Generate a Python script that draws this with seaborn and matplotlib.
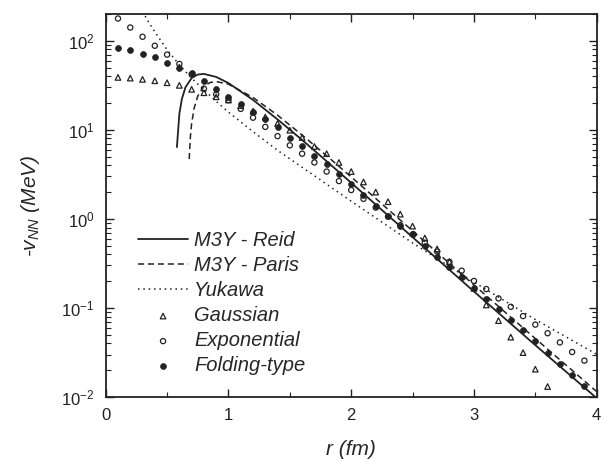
import numpy as np
import pandas as pd
import matplotlib
matplotlib.use("Agg")
import matplotlib.pyplot as plt
import seaborn as sns

# radio (fm) de los puntos
r_pts = [0.1, 0.2, 0.3, 0.4, 0.5, 0.6, 0.7, 0.8, 0.9, 1.0,
         1.1, 1.2, 1.3, 1.4, 1.5, 1.6, 1.7, 1.8, 1.9, 2.0,
         2.1, 2.2, 2.3, 2.4, 2.5, 2.6, 2.7, 2.8, 2.9, 3.0,
         3.1, 3.2, 3.3, 3.4, 3.5, 3.6, 3.7, 3.8, 3.9]

gauss = [38.8, 38.1, 36.9, 35.6, 33.8, 31.6, 28.5, 26.1, 23.5, 21.6,
         18.7, 16.2, 13.9, 11.8, 9.9, 8.2, 6.5, 5.4, 4.3, 3.4,
         2.6, 2.0, 1.56, 1.13, 0.83, 0.61, 0.46, 0.33, 0.23, 0.166,
         0.108, 0.072, 0.047, 0.0315, 0.0205, 0.0131]

expo = [178, 141, 111, 88, 70, 55, 42, 29, 25, 21.6,
        17.2, 13.7, 10.8, 8.5, 6.7, 5.4, 4.3, 3.4, 2.66, 2.11,
        1.68, 1.34, 1.06, 0.85, 0.67, 0.54, 0.43, 0.33, 0.262, 0.201,
        0.163, 0.128, 0.103, 0.081, 0.065, 0.052, 0.041, 0.032, 0.0256]

folding = [83, 79, 72, 65, 57, 49, 43, 35, 29, 23.5,
           19.3, 16.0, 13.2, 10.7, 8.2, 6.6, 5.1, 4.1, 3.2, 2.47,
           1.85, 1.40, 1.09, 0.83, 0.67, 0.50, 0.377, 0.291, 0.225, 0.166,
           0.126, 0.097, 0.073, 0.056, 0.042, 0.0315, 0.0235, 0.0177, 0.0133]

# curvas
r_reid = [0.58, 0.60, 0.62, 0.65, 0.70, 0.75, 0.80, 0.90, 1.0, 1.2, 1.4,
          1.6, 1.8, 2.0, 2.5, 3.0, 3.5, 4.0]
reid = [6.4, 15.1, 22.1, 30.1, 38.2, 41.8, 42.5, 39.3, 33.5, 21.7, 13.1,
        7.7, 4.44, 2.54, 0.623, 0.153, 0.0382, 0.0097]

r_paris = [0.68, 0.69, 0.70, 0.72, 0.75, 0.80, 0.85, 0.90, 1.0, 1.2, 1.4,
           1.6, 1.8, 2.0, 2.5, 3.0, 3.5, 4.0]
paris = [4.7, 8.4, 11.8, 17.4, 24.0, 30.8, 34.0, 34.9, 32.6, 23.1, 14.6,
         8.75, 5.12, 2.96, 0.733, 0.181, 0.0453, 0.0115]

r_yuk = [0.30, 0.35, 0.40, 0.50, 0.60, 0.70, 0.80, 0.90, 1.0, 1.2, 1.4,
         1.6, 1.8, 2.0, 2.5, 3.0, 3.5, 4.0]
yukawa = [214, 162, 126, 79.4, 53.7, 38.0, 28.2, 20.9, 15.8, 9.55, 5.89,
          3.80, 2.45, 1.58, 0.537, 0.195, 0.0741, 0.0302]

sns.set_style("ticks")
plt.rcParams['font.family'] = ['Liberation Sans', 'DejaVu Sans']
plt.rcParams['mathtext.fontset'] = 'custom'
plt.rcParams['mathtext.rm'] = 'Liberation Sans'
plt.rcParams['mathtext.it'] = 'Liberation Sans:italic'
plt.rcParams['axes.unicode_minus'] = False

fig = plt.figure(figsize=(6.02, 4.59), dpi=100)
ax = fig.add_axes([0.1756, 0.1351, 0.8156, 0.8344])

col = '#222222'
sns.lineplot(x=r_reid, y=reid, ax=ax, color=col, lw=1.3, label='M3Y - Reid')
sns.lineplot(x=r_paris, y=paris, ax=ax, color=col, lw=1.1,
             linestyle=(0, (4, 2.5)), label='M3Y - Paris')
sns.lineplot(x=r_yuk, y=yukawa, ax=ax, color=col, lw=1.1,
             linestyle=(0, (1, 2.5)), label='Yukawa')

sns.scatterplot(x=r_pts[:len(gauss)], y=gauss, ax=ax, marker='^', s=16,
                facecolor='none', edgecolor=col, linewidth=0.9, label='Gaussian')
sns.scatterplot(x=r_pts, y=expo, ax=ax, marker='o', s=14,
                facecolor='none', edgecolor=col, linewidth=0.9, label='Exponential')
sns.scatterplot(x=r_pts, y=folding, ax=ax, marker='o', s=18,
                color=col, edgecolor=col, linewidth=0.5, label='Folding-type')

ax.set_yscale('log')
ax.set_xlim(0, 4)
ax.set_ylim(0.01, 200)
ax.set_xticks([0, 1, 2, 3, 4])
ax.set_xticks([0.5, 1.5, 2.5, 3.5], minor=True)
ax.tick_params(which='both', direction='in', top=True, right=True,
               labelsize=12, colors='#222222')
ax.tick_params(which='major', length=6, width=1)
ax.tick_params(which='minor', length=3.5, width=0.8)
ax.tick_params(axis='y', which='major', pad=8)
ax.tick_params(axis='x', which='major', pad=8)
for sp in ax.spines.values():
    sp.set_linewidth(1.3)
    sp.set_color('#222222')

ax.set_xlabel('r (fm)', fontsize=15, fontstyle='italic', labelpad=12)
ax.set_ylabel(r'-$v_{NN}$ (MeV)', fontsize=15, fontstyle='italic', labelpad=14)

leg = ax.legend(loc='lower left', bbox_to_anchor=(0.045, 0.03), frameon=False,
                prop={'style': 'italic', 'size': 14.5}, handlelength=2.5,
                handletextpad=0.3, labelspacing=0.3, borderpad=0)

fig.savefig('out.png', dpi=100)
